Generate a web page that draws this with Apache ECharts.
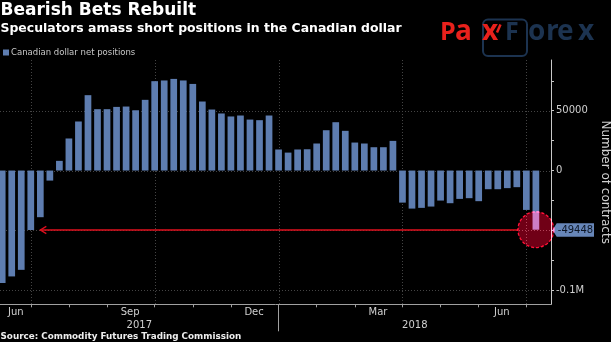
<!DOCTYPE html>
<html>
<head>
<meta charset="utf-8">
<script src="https://cdn.jsdelivr.net/npm/echarts@6/dist/echarts.min.js"></script>
<style>
  html, body { margin: 0; padding: 0; background: #000; }
  #chart { width: 611px; height: 342px; }
</style>
</head>
<body>
<div id="chart"></div>
<script>
// Weekly CFTC report dates (Fridays)
const weeks = [
  '2017-06-16', '2017-06-23', '2017-06-30',
  '2017-07-07', '2017-07-14', '2017-07-21', '2017-07-28',
  '2017-08-04', '2017-08-11', '2017-08-18', '2017-08-25',
  '2017-09-01', '2017-09-08', '2017-09-15', '2017-09-22', '2017-09-29',
  '2017-10-06', '2017-10-13', '2017-10-20', '2017-10-27',
  '2017-11-03', '2017-11-10', '2017-11-17', '2017-11-24',
  '2017-12-01', '2017-12-08', '2017-12-15', '2017-12-22', '2017-12-29',
  '2018-01-05', '2018-01-12', '2018-01-19', '2018-01-26',
  '2018-02-02', '2018-02-09', '2018-02-16', '2018-02-23',
  '2018-03-02', '2018-03-09', '2018-03-16', '2018-03-23', '2018-03-30',
  '2018-04-06', '2018-04-13', '2018-04-20', '2018-04-27',
  '2018-05-04', '2018-05-11', '2018-05-18', '2018-05-25',
  '2018-06-01', '2018-06-08', '2018-06-15', '2018-06-22', '2018-06-29',
  '2018-07-06', '2018-07-13'
];

// Canadian dollar net speculative positions (contracts)
const netPositions = [
  -94000, -88500, -83000,
  -49700, -39000, -8400, 8100,
  26800, 41000, 63000, 51300,
  51300, 53200, 53500, 50400, 59100,
  74700, 75300, 76600, 75300,
  72400, 57700, 51000, 47700,
  45200, 46000, 42600, 42100, 46000,
  17600, 15000, 17600, 17800,
  22600, 33700, 40400, 33200,
  23400, 22600, 19500, 19500, 24800,
  -26800, -31800, -31200, -30100,
  -25100, -27300, -23700, -23100,
  -25600, -15600, -15600, -14700, -13900,
  -32900, -49448
];

const seriesName = 'Canadian dollar net positions';
const monthNames = ['Jan', 'Feb', 'Mar', 'Apr', 'May', 'Jun', 'Jul', 'Aug', 'Sep', 'Oct', 'Nov', 'Dec'];
const monthLabelDates = ['2017-06-26', '2017-09-18', '2017-12-18', '2018-03-19', '2018-06-18'];
const quarterGridDates = ['2017-07-07', '2017-10-06', '2018-01-05', '2018-04-06', '2018-07-06'];
const yearBreakDate = '2018-01-05';
const yTickValues = [-100000, -75000, -50000, -25000, 0, 25000, 50000, 75000];
const yLabelValues = [-100000, 0, 50000];
const yGridValues = [-100000, -50000, 0, 50000];
const arrowTipWeek = '2017-07-14';

const FONT = 'DejaVu Sans';
const BAR = '#5e7db0';

function ts(s) {
  const [y, m, d] = s.split('-').map(Number);
  return new Date(y, m - 1, d).getTime();
}
const DAY = 86400000;

// Horizontal scale: one week per ~9.53 px, plot spans 0..551 px
const pxPerDay = 9.53 / 7;
const xMin = ts(weeks[0]) - (2.2 / pxPerDay) * DAY;
const xMax = xMin + (551 / pxPerDay) * DAY;

// First report of each month gets a tick
const monthTicks = weeks
  .filter((w, i) => i > 0 && w.slice(5, 7) !== weeks[i - 1].slice(5, 7))
  .map(ts);

const yearBreak = ts(yearBreakDate);
const last = weeks.length - 1;

const chart = echarts.init(document.getElementById('chart'), null, { renderer: 'canvas' });

function gridLineH(params, api) {
  const cs = params.coordSys;
  const y = Math.round(api.coord([api.value(0), api.value(1)])[1]) + 0.5;
  return {
    type: 'line', silent: true,
    shape: { x1: cs.x, y1: y, x2: cs.x + cs.width, y2: y },
    style: { stroke: '#444444', lineWidth: 1, lineDash: [1, 2] }
  };
}
function gridLineV(params, api) {
  const cs = params.coordSys;
  const x = Math.round(api.coord([api.value(0), api.value(1)])[0]) + 0.5;
  return {
    type: 'line', silent: true,
    shape: { x1: x, y1: cs.y, x2: x, y2: cs.y + cs.height },
    style: { stroke: '#444444', lineWidth: 1, lineDash: [1, 2] }
  };
}
// Arrow back to the matching level, plus the value tag on the axis
function annotation(params, api) {
  const cs = params.coordSys;
  const v = api.value(2);
  const tip = api.coord([api.value(0), v]);
  const ctr = api.coord([api.value(1), v]);
  const r = 18;
  const ax = cs.x + cs.width;
  const y = Math.round(tip[1]);
  return {
    type: 'group',
    children: [
      {
        type: 'line', silent: true,
        shape: { x1: tip[0], y1: y, x2: ctr[0] - r, y2: y },
        style: { stroke: '#e0101e', lineWidth: 1.7 }
      },
      {
        type: 'polyline', silent: true,
        shape: { points: [[tip[0] + 6, y - 3.6], [tip[0], y], [tip[0] + 6, y + 3.6]] },
        style: { stroke: '#e0101e', lineWidth: 1.3, fill: null }
      },
      {
        type: 'polygon', silent: true,
        shape: { points: [[ax + 1.5, y], [ax + 5.7, y - 6.7], [ax + 43, y - 6.7], [ax + 43, y + 6.7], [ax + 5.7, y + 6.7]] },
        style: { fill: '#6786b8' }
      },
      {
        type: 'text', silent: true,
        x: ax + 24.5, y: y,
        style: { text: String(v), fill: '#0c1524', font: '10px "' + FONT + '"', align: 'center', verticalAlign: 'middle' }
      }
    ]
  };
}

// Logo letters (baseline at y = 43)
const logoLetters = [
  { t: 'P', x: 440, c: '#e8211c', s: 25 }, { t: 'a', x: 455, c: '#e8211c', s: 28 },
  { t: 'x', x: 482, c: '#e8211c', s: 28 }, { t: 'F', x: 505, c: '#1c3350', s: 25 },
  { t: 'o', x: 528, c: '#1c3350', s: 28 }, { t: 'r', x: 546, c: '#1c3350', s: 28 },
  { t: 'e', x: 557, c: '#1c3350', s: 28 }, { t: 'x', x: 578, c: '#1c3350', s: 28 }
];

const option = {
  backgroundColor: '#000',
  animation: false,
  textStyle: { fontFamily: FONT },
  grid: { left: 0, right: 60, top: 60, bottom: 37.7, containLabel: false, outerBoundsMode: 'none' },
  legend: {
    data: [seriesName],
    left: 3, top: 48, padding: 0,
    icon: 'rect', itemWidth: 6, itemHeight: 6,
    textStyle: { color: '#c8c8c8', fontSize: 8.5, fontFamily: FONT, padding: [0, 0, 0, -3] },
    selectedMode: false
  },
  xAxis: [
    {
      type: 'value', min: xMin, max: xMax, position: 'bottom', scale: true,
      axisLine: { show: true, onZero: false, lineStyle: { color: '#a0a0a0', width: 1 } },
      axisTick: { show: true, customValues: monthTicks, length: 3, lineStyle: { color: '#a0a0a0' } },
      axisLabel: {
        customValues: monthLabelDates.map(ts),
        formatter: v => monthNames[new Date(v).getMonth()],
        color: '#d0d0d0', fontSize: 10, fontFamily: FONT, margin: 3
      },
      splitLine: { show: false }
    },
    {
      type: 'value', min: xMin, max: xMax, position: 'bottom', scale: true,
      axisLine: { show: false, onZero: false },
      axisTick: { show: true, customValues: [yearBreak], length: 27, lineStyle: { color: '#a0a0a0' } },
      axisLabel: {
        customValues: [(xMin + yearBreak) / 2, (yearBreak + xMax) / 2],
        formatter: v => String(new Date(v).getFullYear()),
        color: '#d0d0d0', fontSize: 10, fontFamily: FONT, margin: 16
      },
      splitLine: { show: false }
    }
  ],
  yAxis: {
    type: 'value', position: 'right', min: -111800, max: 92400,
    name: 'Number of contracts', nameLocation: 'middle', nameRotate: -90, nameGap: 45,
    nameTextStyle: { color: '#d0d0d0', fontSize: 12, fontFamily: FONT },
    axisLine: { show: true, lineStyle: { color: '#c8c8c8', width: 1 } },
    axisTick: { show: true, customValues: yTickValues, length: 3, lineStyle: { color: '#c8c8c8' } },
    axisLabel: {
      customValues: yLabelValues,
      formatter: v => (v === -100000 ? '-0.1M' : String(v)),
      color: '#d0d0d0', fontSize: 10, fontFamily: FONT, margin: 5
    },
    splitLine: { show: false }
  },
  graphic: [
    { type: 'text', x: 0.5, y: 10.8, silent: true,
      style: { text: 'Bearish Bets Rebuilt', fill: '#ffffff', font: 'bold 17px "' + FONT + '"', verticalAlign: 'middle' } },
    { type: 'text', x: 0.5, y: 28.4, silent: true,
      style: { text: 'Speculators amass short positions in the Canadian dollar', fill: '#ffffff', font: 'bold 12.45px "' + FONT + '"', verticalAlign: 'middle' } },
    { type: 'text', x: 0.5, y: 337, silent: true,
      style: { text: 'Source: Commodity Futures Trading Commission', fill: '#eeeeee', font: 'bold 8.8px "' + FONT + '"', verticalAlign: 'middle' } },
    { type: 'rect', x: 483, y: 19.5, silent: true,
      shape: { width: 44, height: 36.5, r: 5 },
      style: { fill: null, stroke: '#1c3350', lineWidth: 2 } },
    { type: 'line', silent: true,
      shape: { x1: 500.5, y1: 24.5, x2: 497, y2: 32.5 },
      style: { stroke: '#e8211c', lineWidth: 2.5 } }
  ].concat(logoLetters.map(l => ({
    type: 'text', x: l.x, y: 43 - 0.388 * l.s, silent: true,
    style: { text: l.t, fill: l.c, font: '700 ' + l.s + 'px "Open Sans"', verticalAlign: 'middle' }
  }))),
  series: [
    {
      name: 'hgrid', type: 'custom', silent: true, z: 1,
      xAxisIndex: 0, yAxisIndex: 0,
      renderItem: gridLineH,
      data: yGridValues.map(v => [ts(weeks[0]), v])
    },
    {
      name: 'vgrid', type: 'custom', silent: true, z: 1,
      xAxisIndex: 0, yAxisIndex: 0,
      renderItem: gridLineV,
      data: quarterGridDates.map(d => [ts(d), 0])
    },
    {
      name: seriesName, type: 'bar', z: 2,
      xAxisIndex: 0, yAxisIndex: 0,
      barWidth: 6.7,
      itemStyle: { color: BAR },
      data: weeks.map((w, i) => [ts(w), netPositions[i]])
    },
    {
      name: 'annotation', type: 'custom', silent: true, z: 3,
      xAxisIndex: 0, yAxisIndex: 0,
      encode: { x: [0, 1], y: 2 },
      renderItem: annotation,
      data: [[ts(arrowTipWeek), ts(weeks[last]), netPositions[last]]]
    },
    {
      name: 'highlight', type: 'scatter', silent: true, z: 4,
      xAxisIndex: 0, yAxisIndex: 0,
      blendMode: 'lighter',
      symbol: 'circle', symbolSize: 36,
      itemStyle: { color: 'rgb(112,0,22)', opacity: 1, borderColor: '#e0122e', borderWidth: 1.2, borderType: [3, 2] },
      emphasis: { disabled: true },
      data: [[ts(weeks[last]), netPositions[last]]]
    }
  ]
};

chart.setOption(option);
</script>
</body>
</html>
